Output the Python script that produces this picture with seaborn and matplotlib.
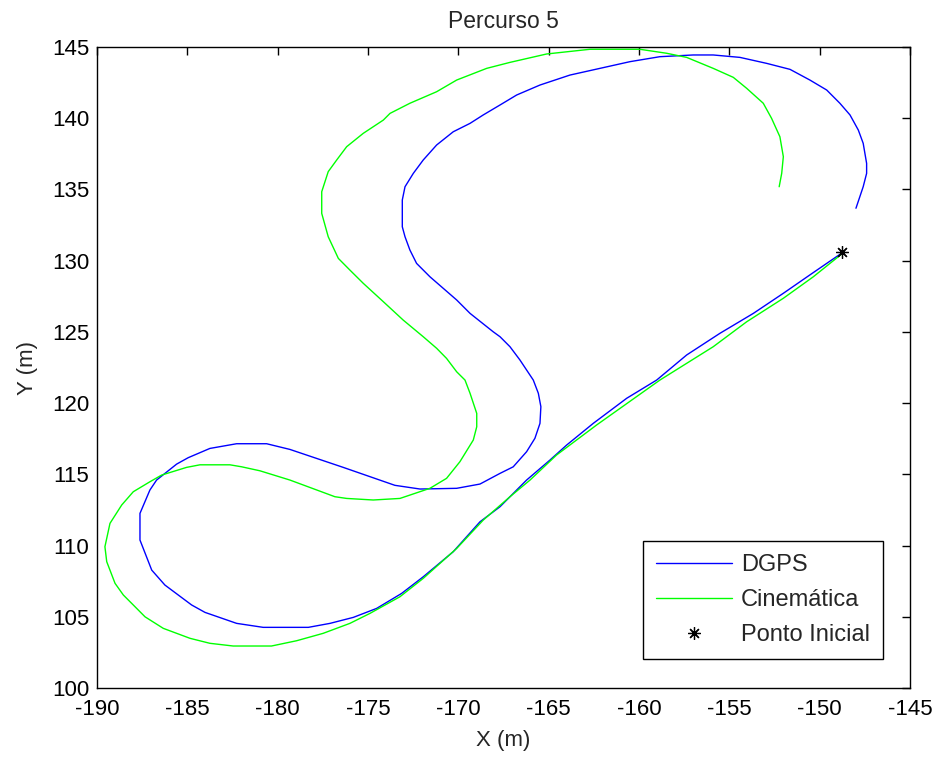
import matplotlib
matplotlib.use("Agg")
import matplotlib.pyplot as plt
import seaborn as sns
import pandas as pd

# DGPS trajectory (starting at initial point)
dgps_x = [-148.7, -150.54, -152.01, -153.67, -155.52, -157.36, -159.02, -160.68, -162.53, -164.0,
          -164.93, -166.22, -167.69, -168.8, -170.28, -171.94, -173.14, -174.52, -175.81, -177.1,
          -178.3, -180.8, -182.27, -184.02, -184.76, -185.5, -186.24, -186.97, -187.62, -187.62,
          -187.07, -186.7, -185.59, -184.95, -183.75, -182.27, -180.61, -179.32, -176.37, -173.51,
          -172.12, -170.09, -168.8, -167.69, -166.96, -166.22, -165.76, -165.48, -165.43, -165.57,
          -165.85, -166.59, -167.14, -167.69, -168.07, -169.35, -170.09, -171.57, -172.31, -172.68,
          -172.95, -173.1, -173.1, -172.95, -172.49, -171.94, -171.2, -170.28, -169.35, -168.62,
          -167.69, -166.77, -165.48, -163.82, -162.16, -160.5, -158.84, -157.0, -155.89, -154.41,
          -152.93, -151.64, -150.54, -149.61, -148.88, -148.32, -147.86, -147.59, -147.4, -147.4,
          -147.59, -147.99]
dgps_y = [130.6, 129.0, 127.71, 126.3, 124.9, 123.38, 121.62, 120.34, 118.58, 117.06,
          116.0, 114.6, 112.73, 111.67, 109.57, 107.81, 106.64, 105.59, 104.96, 104.54,
          104.26, 104.26, 104.54, 105.31, 105.83, 106.53, 107.23, 108.28, 110.39, 112.26,
          113.9, 114.6, 115.72, 116.17, 116.82, 117.15, 117.15, 116.75, 115.49, 114.23,
          113.97, 114.02, 114.32, 115.07, 115.53, 116.59, 117.53, 118.58, 119.75, 120.69,
          121.62, 123.03, 123.96, 124.66, 125.01, 126.3, 127.24, 128.87, 129.81, 130.75,
          131.68, 132.38, 134.26, 135.19, 136.13, 137.07, 138.12, 139.05, 139.64, 140.23,
          140.93, 141.63, 142.33, 143.03, 143.5, 143.97, 144.32, 144.44, 144.44, 144.27,
          143.85, 143.43, 142.68, 141.98, 141.05, 140.23, 139.17, 138.24, 136.83, 136.13,
          135.19, 133.68]

# Kinematic model trajectory
cin_x = [-148.7, -150.35, -152.01, -154.04, -155.89, -158.84, -161.05, -162.35, -164.56, -166.03,
         -167.14, -168.62, -170.09, -171.94, -173.23, -174.89, -176.0, -177.48, -178.95, -180.34,
         -182.46, -183.75, -184.85, -186.33, -187.34, -187.99, -188.54, -189.0, -189.46, -189.56,
         -189.28, -188.63, -187.99, -187.07, -186.42, -185.04, -184.3, -182.64, -181.99, -180.98,
         -179.32, -176.83, -176.18, -174.71, -173.23, -171.57, -170.65, -169.91, -169.17, -168.98,
         -168.98, -169.35, -169.63, -170.09, -170.65, -171.2, -171.94, -173.05, -174.15, -175.26,
         -176.0, -176.64, -177.2, -177.56, -177.56, -177.2, -176.73, -176.18, -175.26, -174.15,
         -173.78, -172.68, -171.2, -170.09, -168.43, -167.14, -165.11, -162.71, -159.95, -158.47,
         -157.36, -155.89, -154.78, -154.04, -153.12, -152.66, -152.2, -152.01, -152.1, -152.24]
cin_y = [130.55, 128.87, 127.36, 125.71, 123.96, 121.62, 119.63, 118.46, 116.36, 114.6,
         113.43, 111.79, 109.8, 107.7, 106.41, 105.24, 104.54, 103.84, 103.32, 102.95,
         102.95, 103.14, 103.49, 104.19, 105.0, 105.83, 106.53, 107.35, 108.87, 109.92,
         111.56, 112.85, 113.78, 114.48, 114.95, 115.49, 115.67, 115.67, 115.53, 115.25,
         114.6, 113.43, 113.31, 113.2, 113.31, 114.02, 114.72, 115.89, 117.41, 118.34,
         119.28, 120.69, 121.62, 122.2, 123.14, 123.85, 124.66, 125.83, 127.12, 128.41,
         129.34, 130.16, 131.68, 133.32, 134.84, 136.25, 137.07, 138.0, 138.94, 139.87,
         140.34, 141.05, 141.86, 142.68, 143.5, 143.92, 144.51, 144.84, 144.84, 144.56,
         144.27, 143.5, 142.87, 142.1, 141.05, 139.99, 138.7, 137.3, 136.13, 135.19]

start_x = [-148.75]
start_y = [130.63]

x_ticks = [-190, -185, -180, -175, -170, -165, -160, -155, -150, -145]
y_ticks = [100, 105, 110, 115, 120, 125, 130, 135, 140, 145]

sns.set_style("white")
plt.rcParams["font.family"] = ["Liberation Sans", "DejaVu Sans"]
plt.rcParams["axes.unicode_minus"] = False

fig = plt.figure(figsize=(9.36, 7.58), dpi=100)
ax = fig.add_axes([0.1036, 0.0923, 0.8686, 0.8457])

df_d = pd.DataFrame({"x": dgps_x, "y": dgps_y})
df_c = pd.DataFrame({"x": cin_x, "y": cin_y})
sns.lineplot(data=df_d, x="x", y="y", sort=False, estimator=None, color="#0000ff",
             linewidth=1.0, ax=ax, label="DGPS")
sns.lineplot(data=df_c, x="x", y="y", sort=False, estimator=None, color="#00ff00",
             linewidth=1.0, ax=ax, label="Cinemática")
ax.plot(start_x, start_y, linestyle="none", marker=(8, 2, 0), markersize=9,
        color="black", markeredgewidth=0.9, label="Ponto Inicial")

ax.set_xlim(-190, -145)
ax.set_ylim(100, 145)
ax.set_xticks(x_ticks)
ax.set_yticks(y_ticks)
ax.tick_params(direction="in", top=True, right=True, length=6, width=1,
               labelsize=16, colors="black")
ax.tick_params(axis="x", pad=8)
ax.tick_params(axis="y", pad=5.5)
for s in ax.spines.values():
    s.set_color("black")
    s.set_linewidth(1.0)

ax.set_title("Percurso 5", fontsize=16.5, pad=14)
ax.set_xlabel("X (m)", fontsize=16, labelpad=7)
ax.set_ylabel("Y (m)", fontsize=16, labelpad=10)

leg = ax.legend(loc="lower right", bbox_to_anchor=(0.967, 0.045), borderaxespad=0,
                fontsize=17, fancybox=False, framealpha=1, edgecolor="black",
                handlelength=3.2, handletextpad=0.4, borderpad=0.55, labelspacing=0.55)
leg.get_frame().set_linewidth(1.0)

fig.savefig("out.png", dpi=100)
